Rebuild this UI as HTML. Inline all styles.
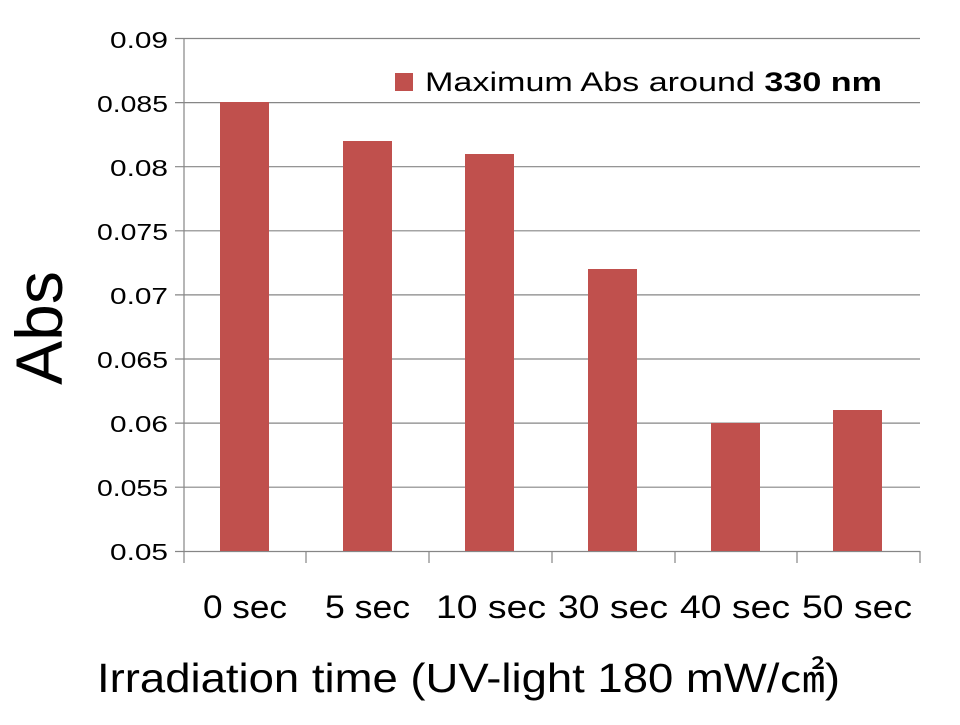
<!DOCTYPE html><html><head><style>body{margin:0;background:#fff}</style></head><body>
<svg width="960" height="720" xmlns="http://www.w3.org/2000/svg" font-family="Liberation Sans, DejaVu Sans, sans-serif">
<g stroke="#868686" stroke-width="1.2">
<line x1="175" y1="38.5" x2="920" y2="38.5"/><line x1="175" y1="102.6" x2="920" y2="102.6"/><line x1="175" y1="166.7" x2="920" y2="166.7"/><line x1="175" y1="230.8" x2="920" y2="230.8"/><line x1="175" y1="294.9" x2="920" y2="294.9"/><line x1="175" y1="359" x2="920" y2="359"/><line x1="175" y1="423.1" x2="920" y2="423.1"/><line x1="175" y1="487.2" x2="920" y2="487.2"/>
<line x1="175" y1="551.5" x2="920" y2="551.5"/>
<line x1="184" y1="38" x2="184" y2="563"/>
<line x1="306" y1="551" x2="306" y2="563"/><line x1="429" y1="551" x2="429" y2="563"/><line x1="552" y1="551" x2="552" y2="563"/><line x1="675" y1="551" x2="675" y2="563"/><line x1="797" y1="551" x2="797" y2="563"/><line x1="920" y1="551" x2="920" y2="563"/>
</g>
<g fill="#c0504d">
<rect x="220" y="102" width="49" height="449"/>
<rect x="343" y="141" width="49" height="410"/>
<rect x="465" y="154" width="49" height="397"/>
<rect x="588" y="269" width="49" height="282"/>
<rect x="711" y="423" width="49" height="128"/>
<rect x="833" y="410" width="49" height="141"/>
<rect x="395" y="73" width="18" height="18"/>
</g>
<g font-size="23" text-anchor="end" fill="#000" lengthAdjust="spacingAndGlyphs">
<text x="168" y="48" textLength="58" lengthAdjust="spacingAndGlyphs">0.09</text><text x="168" y="112" textLength="71" lengthAdjust="spacingAndGlyphs">0.085</text><text x="168" y="176" textLength="58" lengthAdjust="spacingAndGlyphs">0.08</text><text x="168" y="240" textLength="71" lengthAdjust="spacingAndGlyphs">0.075</text><text x="168" y="304" textLength="58" lengthAdjust="spacingAndGlyphs">0.07</text><text x="168" y="368" textLength="71" lengthAdjust="spacingAndGlyphs">0.065</text><text x="168" y="432" textLength="58" lengthAdjust="spacingAndGlyphs">0.06</text><text x="168" y="496" textLength="71" lengthAdjust="spacingAndGlyphs">0.055</text><text x="168" y="560" textLength="58" lengthAdjust="spacingAndGlyphs">0.05</text>
</g>
<g font-size="32" fill="#000">
<text x="203" y="618" textLength="84" lengthAdjust="spacingAndGlyphs">0 sec</text><text x="325" y="618" textLength="85" lengthAdjust="spacingAndGlyphs">5 sec</text><text x="436" y="618" textLength="110" lengthAdjust="spacingAndGlyphs">10 sec</text><text x="558" y="618" textLength="110" lengthAdjust="spacingAndGlyphs">30 sec</text><text x="680" y="618" textLength="110" lengthAdjust="spacingAndGlyphs">40 sec</text><text x="802" y="618" textLength="110" lengthAdjust="spacingAndGlyphs">50 sec</text>
</g>
<text x="425" y="91" font-size="27" textLength="457" lengthAdjust="spacingAndGlyphs">Maximum Abs around <tspan font-weight="bold">330 nm</tspan></text>
<text x="97" y="692" font-size="41" textLength="743" lengthAdjust="spacingAndGlyphs" font-family="Liberation Sans, Noto Sans CJK KR, sans-serif">Irradiation time (UV-light 180 mW/㎠)</text>
<text transform="translate(62,328) rotate(-90)" font-size="66" text-anchor="middle">Abs</text>
</svg>
</body></html>
